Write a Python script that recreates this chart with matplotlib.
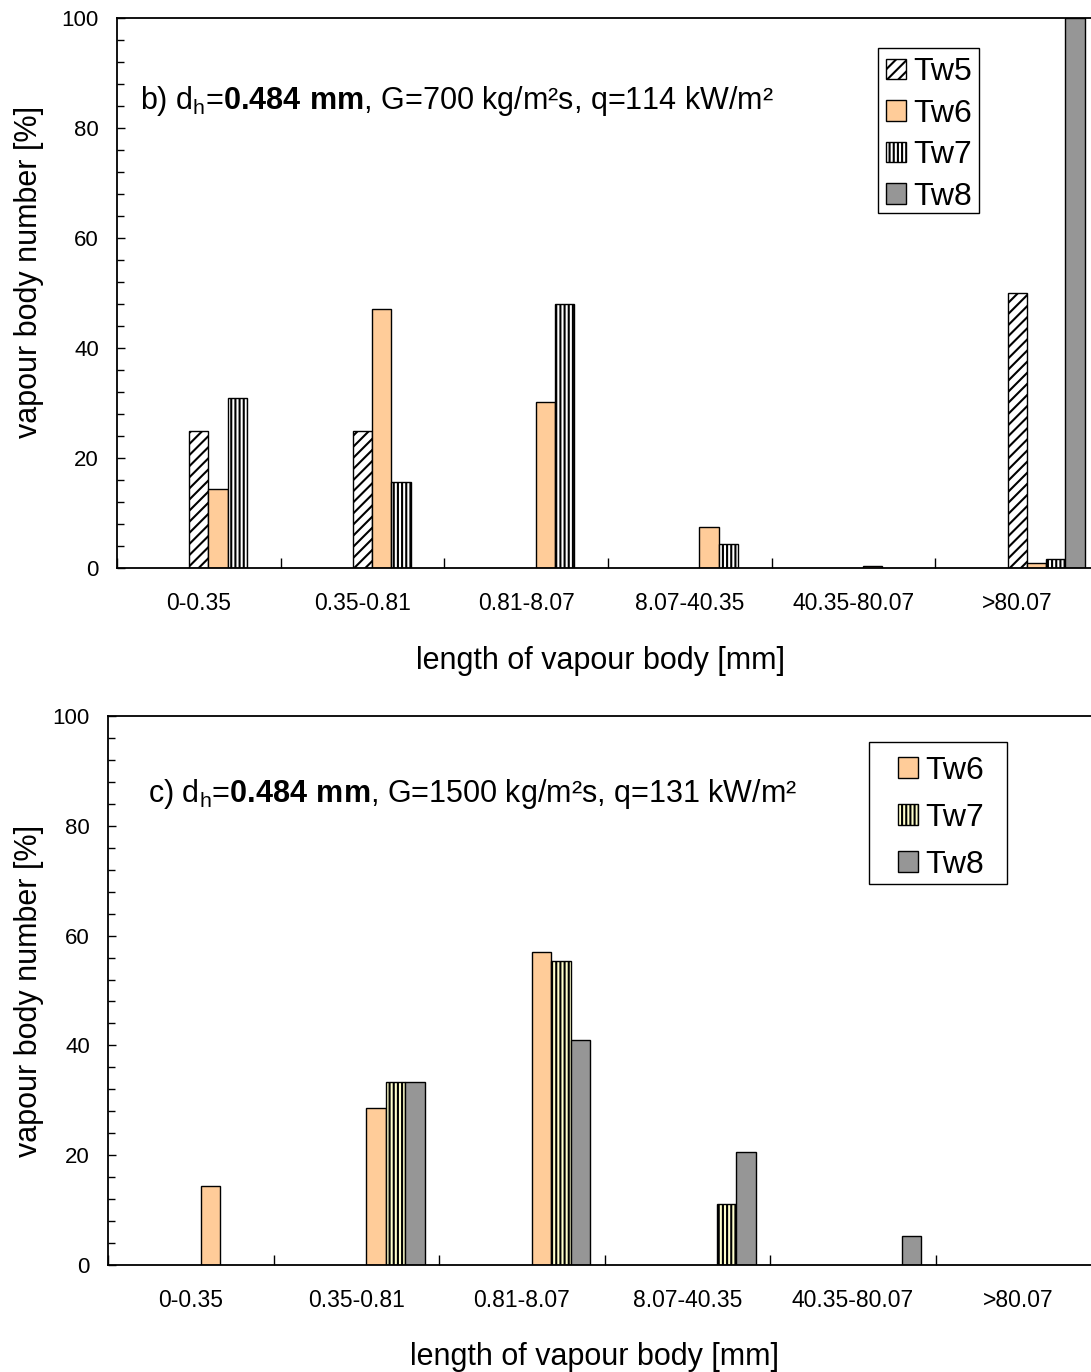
import numpy as np
import matplotlib
matplotlib.use('Agg')
import matplotlib.pyplot as plt
from matplotlib.patches import Rectangle

plt.rcParams['font.family'] = ['Liberation Sans', 'DejaVu Sans']
plt.rcParams['mathtext.fontset'] = 'custom'
plt.rcParams['mathtext.rm'] = 'Liberation Sans'
plt.rcParams['mathtext.bf'] = 'Liberation Sans:bold'
plt.rcParams['hatch.linewidth'] = 1.5

categories = ['0-0.35', '0.35-0.81', '0.81-8.07', '8.07-40.35', '40.35-80.07', '>80.07']

# b) G=700, q=114
b_tw5 = [25, 25, 0, 0, 0, 50]
b_tw6 = [14.3, 47.1, 30.2, 7.5, 0.4, 0.9]
b_tw7 = [31, 15.6, 48, 4.4, 0, 1.6]
b_tw8 = [0, 0, 0, 0, 0, 100]

# c) G=1500, q=131
c_tw6 = [14.3, 28.6, 57.1, 0, 0, 0]
c_tw7 = [0, 33.3, 55.4, 11.1, 0, 0]
c_tw8 = [0, 33.3, 41.0, 20.5, 5.2, 0]

orange = '#FFCC99'
grey = '#969696'
yellow = '#FFFFCC'
w = 0.118


def draw_bars(ax, values, slot, label, face, hatch=None):
    x = np.arange(len(values)) + slot * w
    v = np.array(values, dtype=float)
    keep = v > 0
    ax.bar(x[keep], v[keep], width=w, color=face, edgecolor='black',
           linewidth=1.0, hatch=hatch, label=label)


def style_axes(ax):
    ax.set_xlim(-0.5, 5.5)
    ax.set_ylim(0, 100)
    ax.set_xticks(np.arange(len(categories)))
    ax.set_xticklabels(categories)
    ax.set_xticks(np.arange(len(categories)) - 0.5, minor=True)
    ax.tick_params(axis='x', which='major', length=0, labelsize=16.5, pad=17)
    ax.tick_params(axis='x', which='minor', direction='in', length=7, width=1)
    ax.set_yticks(np.arange(0, 101, 20))
    ax.set_yticks(np.arange(0, 101, 4), minor=True)
    ax.tick_params(axis='y', which='major', direction='in', length=6, width=1,
                   labelsize=16, pad=13)
    ax.tick_params(axis='y', which='minor', direction='in', length=5, width=1)
    for s in ax.spines.values():
        s.set_linewidth(1.3)
        s.set_color('black')
    ax.set_xlabel('length of vapour body [mm]', fontsize=22)
    ax.set_ylabel('vapour body number [%]', fontsize=22)


def legend_box(ax, x0, y0, bw, bh):
    ax.add_patch(Rectangle((x0, y0), bw, bh, transform=ax.transAxes,
                           facecolor='white', edgecolor='black', linewidth=1.0,
                           zorder=4))


fig = plt.figure(figsize=(10.91, 13.72), dpi=100)

# top panel (b)
ax1 = fig.add_axes([117 / 1091, 1 - 568 / 1372, 982 / 1091, 550 / 1372])
draw_bars(ax1, b_tw5, 0, 'Tw5', 'white', '///')
draw_bars(ax1, b_tw6, 1, 'Tw6', orange)
draw_bars(ax1, b_tw7, 2, 'Tw7', 'white', '||||')
draw_bars(ax1, b_tw8, 3, 'Tw8', grey)
style_axes(ax1)
ax1.xaxis.set_label_coords(0.492, -0.141)
ax1.yaxis.set_label_coords(-0.074, 0.538)
ax1.text(0.0234, 0.849,
         r'b) d$_\mathrm{h}$=$\mathbf{0.484\ mm}$, G=700 kg/m²s, q=114 kW/m²',
         transform=ax1.transAxes, fontsize=22, va='center', ha='left')
legend_box(ax1, 0.775, 0.6455, 0.1029, 0.30)
leg1 = ax1.legend(loc='upper left', bbox_to_anchor=(0.7831, 0.9284), fontsize=23,
                  frameon=False, handlelength=0.62, handleheight=0.62,
                  handletextpad=0.23, labelspacing=0.36, borderpad=0,
                  borderaxespad=0)
leg1.set_zorder(5)

# bottom panel (c)
ax2 = fig.add_axes([108 / 1091, 1 - 1265 / 1372, 993 / 1091, 549 / 1372])
draw_bars(ax2, c_tw6, 1, 'Tw6', orange)
draw_bars(ax2, c_tw7, 2, 'Tw7', yellow, '||||')
draw_bars(ax2, c_tw8, 3, 'Tw8', grey)
style_axes(ax2)
ax2.xaxis.set_label_coords(0.49, -0.140)
ax2.yaxis.set_label_coords(-0.0645, 0.5)
ax2.text(0.040, 0.858,
         r'c) d$_\mathrm{h}$=$\mathbf{0.484\ mm}$, G=1500 kg/m²s, q=131 kW/m²',
         transform=ax2.transAxes, fontsize=22, va='center', ha='left')
legend_box(ax2, 0.766, 0.694, 0.139, 0.259)
leg2 = ax2.legend(loc='upper left', bbox_to_anchor=(0.7956, 0.927), fontsize=23,
                  frameon=False, handlelength=0.62, handleheight=0.62,
                  handletextpad=0.23, labelspacing=0.53, borderpad=0,
                  borderaxespad=0)
leg2.set_zorder(5)

fig.savefig('out.png', dpi=100)
